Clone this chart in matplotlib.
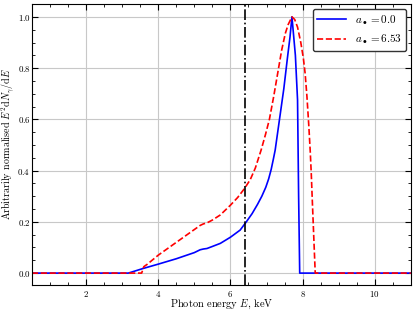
import numpy as np
import matplotlib
matplotlib.use("Agg")
import matplotlib.pyplot as plt
from matplotlib.ticker import MultipleLocator

plt.rcParams["font.family"] = "serif"
plt.rcParams["font.serif"] = ["cmr10"]
plt.rcParams["mathtext.fontset"] = "cm"
plt.rcParams["axes.formatter.use_mathtext"] = True
plt.rcParams["font.size"] = 7.5

# spectrum for a = 0.0
E_blue = [0.5, 3.17, 3.58, 4.0, 4.5, 5.0, 5.16, 5.25, 5.35, 5.5, 5.72, 6.0, 6.27,
          6.44, 6.6, 6.75, 6.87, 6.98, 7.06, 7.13, 7.19, 7.24, 7.31, 7.38, 7.48, 7.58,
          7.65, 7.705, 7.80, 7.86, 7.89, 7.92, 11.0]
S_blue = [0.0, 0.0, 0.018, 0.035, 0.056, 0.08, 0.091, 0.094, 0.096, 0.104, 0.116, 0.14, 0.168,
          0.2, 0.232, 0.268, 0.3, 0.335, 0.368, 0.405, 0.445, 0.48, 0.55, 0.62, 0.72, 0.84,
          0.92, 1.0, 0.85, 0.676, 0.3, 0.0, 0.0]

# spectrum for a = 6.53
E_red = [0.5, 3.54, 3.6, 3.7, 4.0, 4.5, 5.0, 5.16, 5.25, 5.35, 5.5, 5.72, 6.0, 6.2,
         6.39, 6.55, 6.69, 6.85, 6.97, 7.08, 7.2, 7.31, 7.42, 7.52, 7.6, 7.705,
         7.78, 7.86, 7.95, 8.02, 8.07, 8.12, 8.17, 8.21, 8.24, 8.27, 8.31, 8.35, 11.0]
S_red = [0.0, 0.0, 0.025, 0.035, 0.07, 0.12, 0.17, 0.186, 0.192, 0.196, 0.207, 0.227, 0.265, 0.295,
         0.33, 0.365, 0.41, 0.48, 0.54, 0.60, 0.69, 0.78, 0.87, 0.935, 0.97, 1.0,
         0.99, 0.96, 0.9, 0.84, 0.78, 0.69, 0.58, 0.48, 0.39, 0.28, 0.14, 0.0, 0.0]

E_line = 6.4

fig = plt.figure(figsize=(4.15, 3.13), dpi=100)
ax = fig.add_axes([0.077, 0.089, 0.913, 0.898])

ax.plot(E_blue, S_blue, color="blue", lw=1.2, label=r"$a_\bullet = 0.0$")
ax.plot(E_red, S_red, color="red", lw=1.2, ls="--", label=r"$a_\bullet = 6.53$")
ax.axvline(E_line, color="black", lw=1.2, ls="-.")

ax.set_xlim(0.5, 11)
ax.set_ylim(-0.047, 1.05)
ax.xaxis.set_major_locator(MultipleLocator(2))
ax.xaxis.set_minor_locator(MultipleLocator(0.5))
ax.yaxis.set_major_locator(MultipleLocator(0.2))
ax.yaxis.set_minor_locator(MultipleLocator(0.05))
ax.tick_params(which="both", direction="in", top=True, right=True, labelsize=6.4)
ax.tick_params(axis="x", which="both", pad=2.5)
ax.tick_params(axis="y", which="both", pad=1.0)
ax.tick_params(which="major", length=4)
ax.tick_params(which="minor", length=2)
ax.grid(True, which="major", color="#c8c8c8", lw=0.8)

ax.set_xlabel(r"Photon energy $E$, keV")
ax.set_ylabel(r"Arbitrarily normalised $E^2\mathrm{d}N_\gamma/\mathrm{d}E$", fontsize=7.2)
ax.xaxis.set_label_coords(0.5, -0.043)
ax.yaxis.set_label_coords(-0.041, 0.5)

leg = ax.legend(loc="upper right", fancybox=True, framealpha=1, fontsize=8,
                handlelength=2.6, borderaxespad=0.4)
leg.get_frame().set_edgecolor("#333333")

fig.savefig("out.png", dpi=100)
